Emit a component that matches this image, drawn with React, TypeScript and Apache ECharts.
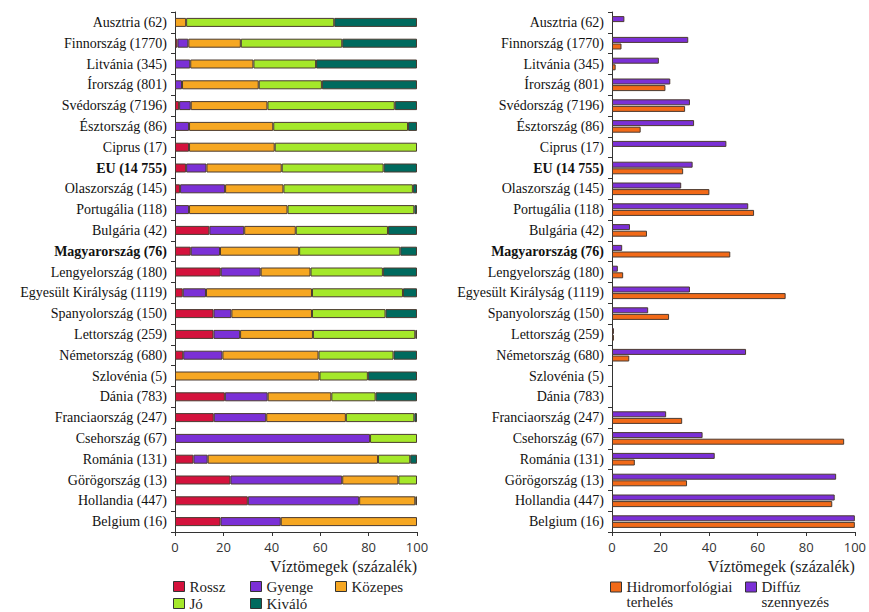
import React, { useEffect, useRef } from "react";
import * as echarts from "echarts";

const countries = [
  "Ausztria (62)", "Finnország (1770)", "Litvánia (345)", "Írország (801)", "Svédország (7196)",
  "Észtország (86)", "Ciprus (17)", "EU (14 755)", "Olaszország (145)", "Portugália (118)",
  "Bulgária (42)", "Magyarország (76)", "Lengyelország (180)", "Egyesült Királyság (1119)",
  "Spanyolország (150)", "Lettország (259)", "Németország (680)", "Szlovénia (5)", "Dánia (783)",
  "Franciaország (247)", "Csehország (67)", "Románia (131)", "Görögország (13)", "Hollandia (447)",
  "Belgium (16)",
];
const boldLabels = ["EU (14 755)", "Magyarország (76)"];

// Left chart: ecological status shares (%)
const rossz = [0, 1, 0, 0, 1.7, 0, 5.8, 4.6, 2.1, 0, 14.2, 6.5, 18.9, 3.2, 15.9, 15.9, 3.4, 0, 20.6, 16, 0, 7.6, 22.9, 30.1, 18.8];
const gyenge = [0, 4.5, 6.3, 2.9, 4.8, 5.8, 0, 8.4, 18.6, 5.8, 14.4, 12.1, 16.5, 9.6, 7.4, 11, 16.2, 0, 17.7, 21.7, 80.6, 5.9, 46.2, 46, 24.9];
const kozepes = [4.6, 21.7, 26.1, 31.7, 31.7, 34.8, 35.4, 31.1, 24.1, 40.7, 21.3, 32.7, 20.6, 43.8, 33.3, 30.1, 39.7, 59.7, 26.3, 32.9, 0, 70.4, 23.2, 23.2, 56.3];
const jo = [61.2, 41.9, 25.9, 26.1, 52.6, 55.7, 58.8, 42.1, 53.5, 52.4, 38.1, 41.8, 29.9, 37.6, 30.4, 42.3, 31, 20, 18.3, 28.3, 19.4, 13.3, 7.7, 0.7, 0];
const kivalo = [34.2, 30.9, 41.7, 39.3, 9.2, 3.7, 0, 13.8, 1.7, 1.1, 12, 6.9, 14.1, 5.8, 13, 0.7, 9.7, 20.3, 17.1, 1.1, 0, 2.8, 0, 0, 0];

// Right chart: pressures (%)
const diffuz = [5.1, 31.4, 19.3, 24, 32.1, 33.8, 47.1, 33.2, 28.5, 56.1, 7.4, 4.2, 2.4, 32.1, 14.9, 0.8, 55.2, 0, 0, 22.3, 37.3, 42.3, 92.3, 91.7, 100];
const hidro = [0, 3.9, 1.5, 22, 30.1, 11.8, 0, 29.3, 40.1, 58.5, 14.4, 48.7, 4.6, 71.5, 23.5, 0.8, 7.1, 0, 0, 28.9, 95.6, 9.4, 30.9, 90.7, 100];

const xTicks = [0, 20, 40, 60, 80, 100];
const axisTitle = "Víztömegek (százalék)";

const C_ROSSZ = "#d4123c";
const C_GYENGE = "#7b30d6";
const C_KOZEPES = "#f6a722";
const C_JO = "#a5e82a";
const C_KIVALO = "#006a5e";
const C_HIDRO = "#f26a18";
const C_DIFFUZ = "#7b30d6";

const SERIF = "'Liberation Serif', 'Times New Roman', serif";
const SANS = "'Open Sans', 'Liberation Sans', sans-serif";

const nz = (arr: number[]) => arr.map((v) => (v === 0 ? null : v));

export default function App() {
  const ref = useRef<HTMLDivElement>(null);
  useEffect(() => {
    if (!ref.current) return;
    const chart = echarts.init(ref.current, undefined, { renderer: "svg" });
    const border = { borderColor: "#4a3a30", borderWidth: 1 };
    const catAxis = (gridIndex: number) => ({
      type: "category" as const,
      gridIndex,
      data: countries,
      inverse: true,
      axisLine: { show: true, lineStyle: { color: "#333", width: 1 } },
      axisTick: { show: true, inside: false, length: 4, lineStyle: { color: "#333" } },
      axisLabel: {
        margin: 8,
        color: "#111",
        fontFamily: SERIF,
        fontSize: 14,
        formatter: (v: string) => (boldLabels.includes(v) ? `{b|${v}}` : v),
        rich: { b: { fontWeight: "bold", fontFamily: SERIF, fontSize: 14, color: "#111" } },
      },
    });
    const valAxis = (gridIndex: number) => ({
      type: "value" as const,
      gridIndex,
      min: 0,
      max: 100,
      interval: 20,
      splitLine: { show: false },
      axisLine: { show: true, lineStyle: { color: "#333", width: 1 } },
      axisTick: { show: true, inside: false, length: 4, lineStyle: { color: "#333" } },
      axisLabel: {
        margin: 8,
        color: "#333",
        fontFamily: SANS,
        fontSize: 13,
        formatter: (v: number) => (xTicks.includes(v) ? String(v) : ""),
      },
      name: axisTitle,
      nameLocation: "end" as const,
      nameGap: 0,
      nameTextStyle: {
        align: "right",
        verticalAlign: "top",
        padding: [26, 0, 0, 0],
        fontFamily: SERIF,
        fontSize: 16,
        color: "#222",
      },
    });
    const legendBase = (name: string, left: number, top: number, extra: any = {}) => ({
      data: [name],
      left,
      top,
      padding: 0,
      itemWidth: 11,
      itemHeight: 10,
      icon: "rect",
      selectedMode: false,
      itemStyle: { borderColor: "#333", borderWidth: 1 },
      textStyle: { fontFamily: SERIF, fontSize: 15, color: "#222", ...extra },
    });
    const leftSeries = [
      { name: "Rossz", data: rossz, color: C_ROSSZ },
      { name: "Gyenge", data: gyenge, color: C_GYENGE },
      { name: "Közepes", data: kozepes, color: C_KOZEPES },
      { name: "Jó", data: jo, color: C_JO },
      { name: "Kiváló", data: kivalo, color: C_KIVALO },
    ].map((s) => ({
      type: "bar" as const,
      name: s.name,
      xAxisIndex: 0,
      yAxisIndex: 0,
      stack: "status",
      barWidth: 9,
      data: nz(s.data),
      itemStyle: { color: s.color, ...border },
    }));
    const rightSeries = [
      { name: "Diffúz szennyezés", data: diffuz, color: C_DIFFUZ },
      { name: "Hidromorfológiai terhelés", data: hidro, color: C_HIDRO },
    ].map((s) => ({
      type: "bar" as const,
      name: s.name,
      xAxisIndex: 1,
      yAxisIndex: 1,
      barWidth: 6,
      barGap: "10%",
      data: nz(s.data),
      itemStyle: { color: s.color, ...border },
    }));
    chart.setOption({
      animation: false,
      backgroundColor: "#ffffff",
      grid: [
        { left: 175, width: 242, top: 12, height: 520 },
        { left: 612, width: 249, top: 12, height: 520 },
      ],
      xAxis: [valAxis(0), valAxis(1)],
      yAxis: [catAxis(0), catAxis(1)],
      legend: [
        legendBase("Rossz", 173, 579, { lineHeight: 15 }),
        legendBase("Gyenge", 250, 579, { lineHeight: 15 }),
        legendBase("Közepes", 335, 579, { lineHeight: 15 }),
        legendBase("Jó", 173, 596, { lineHeight: 15 }),
        legendBase("Kiváló", 250, 596, { lineHeight: 15 }),
        {
          ...legendBase("Hidromorfológiai terhelés", 610, 565, { lineHeight: 14.5 }),
          formatter: () => " \nHidromorfológiai\nterhelés",
        },
        {
          ...legendBase("Diffúz szennyezés", 745, 565, { lineHeight: 14.5 }),
          formatter: () => " \nDiffúz\nszennyezés",
        },
      ],
      series: [...leftSeries, ...rightSeries],
    });
    return () => chart.dispose();
  }, []);
  return (
    <div
      ref={ref}
      style={{ position: "absolute", left: 0, top: 0, width: 869, height: 612, background: "#fff" }}
    />
  );
}
